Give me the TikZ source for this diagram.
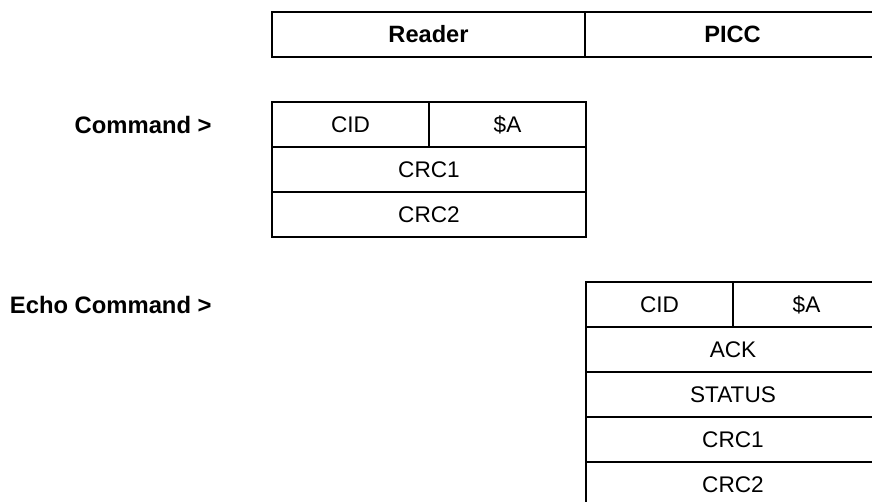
\documentclass[tikz,border=0pt]{standalone}
\usepackage{fontspec}
\setmainfont{Liberation Sans}
\usepackage{tikz}
\usetikzlibrary{positioning}

\begin{document}
\begin{tikzpicture}[x=0.5pt,y=-0.5pt, every node/.style={font=\fontsize{11.3}{13}\selectfont}]
    \tikzset{cell/.style={draw,line width=0.7pt,inner sep=0pt,minimum height=22.5pt}}
    \tikzset{hcell/.style={cell,font=\fontsize{11.8}{13}\selectfont\bfseries}}
    \tikzset{rowlabel/.style={anchor=east,inner sep=0pt,font=\fontsize{11.9}{13}\selectfont\bfseries}}

    \clip (0,0) rectangle (872,502);

    % Header
    \node[hcell,minimum width=156.5pt] (reader) at (428.5,34.5) {Reader};
    \node[hcell,minimum width=147.5pt] (picc) at (732.5,34.5) {PICC};

    % Command
    \node[rowlabel] (cmdlabel) at (212,125) {Command >};
    \node[cell,minimum width=78.5pt] (cmdcid) at (350.5,124.5) {CID};
    \node[cell,minimum width=78.5pt] (cmda) at (507.5,124.5) {\$A};
    \node[cell,minimum width=157pt] (cmdcrca) at (429,169.5) {CRC1};
    \node[cell,minimum width=157pt] (cmdcrcb) at (429,214.5) {CRC2};

    % Echo Command
    \node[rowlabel] (echolabel) at (212,305) {Echo Command >};
    \node[cell,minimum width=73.5pt] (echocid) at (659.5,304.5) {CID};
    \node[cell,minimum width=73.5pt] (echoa) at (806.5,304.5) {\$A};
    \node[cell,minimum width=147pt] (echoack) at (733,349.5) {ACK};
    \node[cell,minimum width=147pt] (echostatus) at (733,394.5) {STATUS};
    \node[cell,minimum width=147pt] (echocrca) at (733,439.5) {CRC1};
    \node[cell,minimum width=147pt] (echocrcb) at (733,484.5) {CRC2};
\end{tikzpicture}
\end{document}
